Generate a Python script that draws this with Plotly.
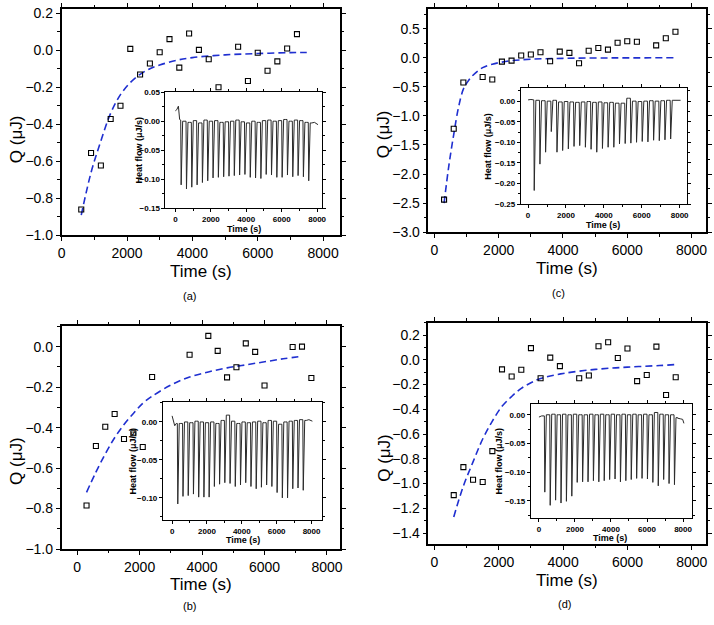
import plotly.graph_objects as go

W, H = 714, 625

# ---------------- data ----------------
# panel (a)
a_t = [600, 900, 1200, 1500, 1800, 2100, 2400, 2700, 3000, 3300, 3600, 3900, 4200, 4500, 4800, 5400, 5700, 6000, 6300, 6600, 6900, 7200]
a_q = [-0.86, -0.555, -0.622, -0.371, -0.300, 0.007, -0.131, -0.072, -0.011, 0.060, -0.094, 0.090, 0.002, -0.049, -0.200, 0.019, -0.166, -0.014, -0.111, -0.060, 0.009, 0.087]
a_fit_t = [600, 900, 1200, 1500, 1800, 2100, 2400, 2700, 3000, 3500, 4000, 5000, 6000, 7000, 7500]
a_fit_q = [-0.89, -0.66, -0.49, -0.34, -0.24, -0.175, -0.13, -0.10, -0.08, -0.055, -0.04, -0.025, -0.018, -0.013, -0.012]

# panel (c)
c_t = [300, 600, 900, 1500, 1800, 2100, 2400, 2700, 3000, 3300, 3600, 3900, 4200, 4500, 4800, 5100, 5400, 5700, 6000, 6300, 6900, 7200, 7500]
c_q = [-2.44, -1.22, -0.425, -0.33, -0.375, -0.067, -0.05, 0.04, 0.056, 0.095, -0.06, 0.106, 0.084, -0.095, 0.12, 0.168, 0.14, 0.257, 0.285, 0.274, 0.213, 0.336, 0.448]
c_fit_t = [300, 450, 600, 750, 900, 1050, 1200, 1500, 1800, 2100, 2400, 3000, 4000, 5000, 6000, 7500]
c_fit_q = [-2.5, -1.85, -1.32, -0.85, -0.54, -0.40, -0.30, -0.17, -0.11, -0.075, -0.05, -0.025, -0.01, -0.004, -0.002, 0.0]

# panel (b)
b_t = [300, 600, 900, 1200, 1500, 1800, 2100, 2400, 3600, 4200, 4500, 4800, 5100, 5400, 5700, 6000, 6900, 7200, 7500]
b_q = [-0.785, -0.491, -0.396, -0.333, -0.456, -0.428, -0.496, -0.150, -0.040, 0.053, -0.021, -0.152, -0.102, 0.016, -0.026, -0.192, -0.002, 0.000, -0.155]
b_fit_t = [300, 600, 900, 1200, 1500, 1800, 2100, 2400, 3000, 3600, 4200, 4800, 5400, 6000, 6600, 7200]
b_fit_q = [-0.72, -0.62, -0.53, -0.45, -0.385, -0.33, -0.28, -0.245, -0.19, -0.15, -0.125, -0.105, -0.09, -0.075, -0.06, -0.048]

# panel (d)
d_t = [600, 900, 1200, 1500, 1800, 2100, 2400, 2700, 3000, 3300, 3600, 3900, 4500, 4800, 5100, 5400, 5700, 6000, 6300, 6600, 6900, 7200, 7500]
d_q = [-1.094, -0.867, -0.970, -0.988, -0.738, -0.077, -0.135, -0.080, 0.095, -0.149, 0.018, -0.051, -0.149, -0.127, 0.110, 0.142, 0.015, 0.092, -0.172, -0.122, 0.107, -0.284, -0.141]
d_fit_t = [600, 900, 1200, 1500, 1800, 2100, 2400, 2700, 3000, 3300, 4000, 5000, 6000, 7000, 7500]
d_fit_q = [-1.27, -1.02, -0.825, -0.64, -0.495, -0.376, -0.296, -0.23, -0.185, -0.151, -0.11, -0.077, -0.059, -0.046, -0.038]

# insets: injection times and peak depths of heat flow (uJ/s)
inj_t = [300, 600, 900, 1200, 1500, 1800, 2100, 2400, 2700, 3000, 3300, 3600, 3900,
         4200, 4500, 4800, 5100, 5400, 5700, 6000, 6300, 6600, 6900, 7200, 7500]
a_peak = [-0.110, -0.117, -0.114, -0.110, -0.106, -0.103, -0.098, -0.097, -0.096, -0.095, -0.094, -0.093, -0.092,
          -0.097, -0.098, -0.099, -0.092, -0.093, -0.097, -0.097, -0.093, -0.096, -0.094, -0.096, -0.103]
a_base = [0.002, 0.0, -0.002, 0.001, -0.003, 0.002, 0.0, 0.001, -0.002, -0.001, 0.0, 0.002, -0.001,
          -0.003, 0.0, -0.002, 0.001, 0.002, 0.0, 0.001, 0.003, 0.0, 0.002, 0.001, -0.002, -0.003]
a_start_t = [0, 80, 170, 240]
a_start_v = [0.018, 0.020, 0.026, 0.003]
a_end_t = [7850, 8050]
a_end_v = [-0.002, -0.006]

c_peak = [-0.217, -0.153, -0.124, -0.074, -0.124, -0.120, -0.116, -0.110, -0.108, -0.112, -0.117, -0.124, -0.115,
          -0.112, -0.112, -0.104, -0.103, -0.102, -0.100, -0.098, -0.099, -0.095, -0.096, -0.094, -0.092]
c_base = [0.003, 0.002, 0.001, 0.0, 0.002, -0.002, -0.001, -0.002, -0.003, -0.002, -0.001, -0.003, -0.002,
          -0.004, -0.003, -0.005, -0.005, 0.007, 0.0, -0.001, 0.0, 0.001, 0.0, 0.001, 0.002, 0.002]
c_start_t = [0, 150]
c_start_v = [0.003, 0.004]
c_end_t = [7850, 8050]
c_end_v = [0.002, 0.002]

b_peak = [-0.108, -0.098, -0.097, -0.095, -0.099, -0.099, -0.099, -0.085, -0.082, -0.080, -0.081, -0.085, -0.083,
          -0.080, -0.085, -0.088, -0.086, -0.083, -0.085, -0.093, -0.100, -0.100, -0.088, -0.087, -0.090]
b_base = [-0.002, -0.002, 0.0, -0.001, 0.001, 0.0, -0.001, 0.0, -0.002, 0.002, 0.009, 0.001, -0.002,
          0.0, -0.001, 0.0, 0.001, -0.001, 0.002, 0.001, -0.003, 0.0, 0.001, 0.002, 0.003, 0.002]
b_start_t = [0, 60, 150, 240]
b_start_v = [0.008, 0.002, -0.005, -0.002]
b_end_t = [7850, 8050]
b_end_v = [0.003, 0.001]

d_peak = [-0.135, -0.158, -0.149, -0.154, -0.151, -0.142, -0.118, -0.117, -0.117, -0.115, -0.117, -0.115, -0.113,
          -0.112, -0.117, -0.115, -0.113, -0.111, -0.111, -0.112, -0.118, -0.124, -0.113, -0.120, -0.122]
d_base = [-0.002, 0.0, 0.001, 0.0, 0.001, 0.0, 0.001, 0.0, 0.0, 0.001, 0.0, 0.001, 0.0,
          0.001, 0.0, 0.001, 0.0, 0.001, 0.0, 0.001, 0.0, 0.004, 0.001, 0.0, 0.0, -0.005]
d_start_t = [0, 150]
d_start_v = [-0.004, -0.002]
d_end_t = [7700, 7850, 7980, 8050]
d_end_v = [-0.006, -0.007, -0.008, -0.015]

# ---------------- helpers ----------------
FONT = "Arial, Liberation Sans, sans-serif"


def px_x(p):
    return p / W


def px_y(p):
    return 1 - p / H


def heat_trace(peaks, base, st, sv, et, ev):
    xs, ys = list(st), list(sv)
    for i, (t, d) in enumerate(zip(inj_t, peaks)):
        xs += [t, t + 25, t + 110, t + 200]
        ys += [base[i], d, base[i + 1], base[i + 1]]
    xs += et
    ys += ev
    return xs, ys


fig = go.Figure()

panels = [
    dict(m="", i="2", t=a_t, q=a_q, ft=a_fit_t, fq=a_fit_q,
         h=(a_peak, a_base, a_start_t, a_start_v, a_end_t, a_end_v),
         mdx=(58.3, 340), mdy=(5, 236), idx=(163.3, 321.7), idy=(90, 208),
         mxr=[0, 8523], myr=[-1.0, 0.223], ixr=[-560, 8280], iyr=[-0.15, 0.05],
         ydt=0.2),
    dict(m="3", i="4", t=c_t, q=c_q, ft=c_fit_t, fq=c_fit_q,
         h=(c_peak, c_base, c_start_t, c_start_v, c_end_t, c_end_v),
         mdx=(429.3, 709.7), mdy=(5, 232.7), idx=(522.7, 690.3), idy=(86, 204),
         mxr=[-185, 8443], myr=[-3.0, 0.84], ixr=[-382, 8365], iyr=[-0.25, 0.031],
         ydt=0.5),
    dict(m="5", i="6", t=b_t, q=b_q, ft=b_fit_t, fq=b_fit_q,
         h=(b_peak, b_base, b_start_t, b_start_v, b_end_t, b_end_v),
         mdx=(58.3, 340), mdy=(328.3, 555.7), idx=(160.7, 321.7), idy=(406, 526),
         mxr=[-497, 8423], myr=[-1.0, 0.102], ixr=[-528, 8607], iyr=[-0.129, 0.026],
         ydt=0.2),
    dict(m="7", i="8", t=d_t, q=d_q, ft=d_fit_t, fq=d_fit_q,
         h=(d_peak, d_base, d_start_t, d_start_v, d_end_t, d_end_v),
         mdx=(429.3, 710), mdy=(325, 550.7), idx=(532.7, 696), idy=(408.3, 524),
         mxr=[-185, 8443], myr=[-1.49, 0.30], ixr=[-456, 8510], iyr=[-0.18, 0.018],
         ydt=0.2),
]

layout = dict(width=W, height=H, autosize=False, margin=dict(l=0, r=0, t=0, b=0),
              paper_bgcolor="white", plot_bgcolor="white", showlegend=False,
              font=dict(family=FONT, color="black"))

for p in panels:
    m, i = p["m"], p["i"]
    fig.add_trace(go.Scatter(x=p["ft"], y=p["fq"], mode="lines", line_shape="spline",
                             line=dict(color="#1f2fd0", width=1.6, dash="7px,4px"),
                             xaxis="x" + m, yaxis="y" + m, hoverinfo="skip"))
    fig.add_trace(go.Scatter(x=p["t"], y=p["q"], mode="markers",
                             marker=dict(symbol="square-open", size=5, color="black",
                                         line=dict(width=1.1, color="black")),
                             xaxis="x" + m, yaxis="y" + m))
    hx, hy = heat_trace(*p["h"])
    fig.add_trace(go.Scatter(x=hx, y=hy, mode="lines",
                             line=dict(color="#2a2a2a", width=1),
                             xaxis="x" + i, yaxis="y" + i, hoverinfo="skip"))

    common = dict(showline=True, linecolor="black", mirror="allticks", ticks="outside",
                  showgrid=False, zeroline=False, color="black")
    layout["xaxis" + m] = dict(common, domain=[px_x(p["mdx"][0]), px_x(p["mdx"][1])],
                               range=p["mxr"], anchor="y" + m, linewidth=1.6,
                               tickmode="linear", tick0=0, dtick=2000, ticklen=4, tickwidth=1.3,
                               minor=dict(ticks="outside", ticklen=2.5, dtick=1000, tickwidth=1.1),
                               tickfont=dict(size=14, family=FONT))
    layout["yaxis" + m] = dict(common, domain=[px_y(p["mdy"][1]), px_y(p["mdy"][0])],
                               range=p["myr"], anchor="x" + m, linewidth=1.6,
                               tickmode="linear", tick0=0, dtick=p["ydt"], tickformat=".1f",
                               ticklen=4, tickwidth=1.3,
                               minor=dict(ticks="outside", ticklen=2.5, dtick=p["ydt"] / 2, tickwidth=1.1),
                               tickfont=dict(size=14, family=FONT))
    layout["xaxis" + i] = dict(common, domain=[px_x(p["idx"][0]), px_x(p["idx"][1])],
                               range=p["ixr"], anchor="y" + i, linewidth=1,
                               tickmode="linear", tick0=0, dtick=2000, ticklen=3, tickwidth=1,
                               minor=dict(ticks="outside", ticklen=2, dtick=1000),
                               tickfont=dict(size=8, family=FONT, weight="bold"))
    layout["yaxis" + i] = dict(common, domain=[px_y(p["idy"][1]), px_y(p["idy"][0])],
                               range=p["iyr"], anchor="x" + i, linewidth=1,
                               tickmode="linear", tick0=0, dtick=0.05, tickformat=".2f",
                               ticklen=3, tickwidth=1,
                               minor=dict(ticks="outside", ticklen=2, dtick=0.025),
                               tickfont=dict(size=8, family=FONT, weight="bold"))

fig.update_layout(**layout)

texts = [
    ("Time (s)", 199, 273, 17, 0, "normal"),
    ("Time (s)", 569.5, 270, 17, 0, "normal"),
    ("Time (s)", 199, 592, 17, 0, "normal"),
    ("Time (s)", 569.5, 588, 17, 0, "normal"),
    ("Q (\u03bcJ)", 12, 138, 17, -90, "normal"),
    ("Q (\u03bcJ)", 384, 133, 17, -90, "normal"),
    ("Q (\u03bcJ)", 12, 466, 17, -90, "normal"),
    ("Q (\u03bcJ)", 384, 463, 17, -90, "normal"),
    ("(a)", 188, 298, 11, 0, "normal"),
    ("(c)", 561, 295, 11, 0, "normal"),
    ("(b)", 188, 614, 11, 0, "normal"),
    ("(d)", 567, 612, 11, 0, "normal"),
    ("Time (s)", 243, 229, 9, 0, "bold"),
    ("Time (s)", 606, 225, 9, 0, "bold"),
    ("Time (s)", 242, 547, 9, 0, "bold"),
    ("Time (s)", 613, 544, 9, 0, "bold"),
    ("Heat flow (\u03bcJ/s)", 137, 149, 9, -90, "bold"),
    ("Heat flow (\u03bcJ/s)", 490, 145, 9, -90, "bold"),
    ("Heat flow (\u03bcJ/s)", 131, 466, 9, -90, "bold"),
    ("Heat flow (\u03bcJ/s)", 501, 466, 9, -90, "bold"),
]
for s, x, y, sz, ang, wt in texts:
    fig.add_annotation(text=s, x=px_x(x), y=px_y(y), xref="paper", yref="paper",
                       showarrow=False, textangle=ang, xanchor="center", yanchor="middle",
                       font=dict(size=sz, family=FONT, color="black", weight=wt))

fig.write_html("out.html", config={"displayModeBar": False},
               post_script="document.body.style.margin='0';")
